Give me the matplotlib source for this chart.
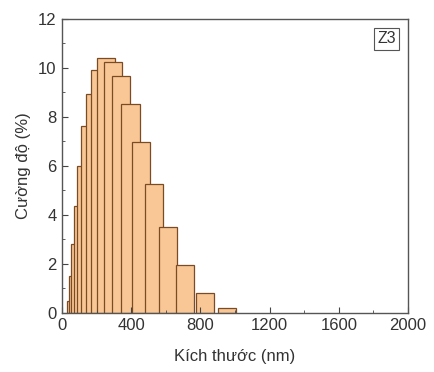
import matplotlib
matplotlib.use("Agg")
import matplotlib.pyplot as plt
from matplotlib.ticker import MultipleLocator

# Size classes (nm) and intensity distribution (%)
sizes = [78.82, 91.28, 105.7, 122.4, 141.8, 164.2, 190.1, 220.2, 255.0,
         295.3, 342.0, 396.1, 458.7, 531.2, 615.1, 712.4, 825.0, 955.4]
intensity = [0.49, 1.51, 2.8, 4.37, 6.0, 7.63, 8.95, 9.9, 10.42,
             10.26, 9.67, 8.52, 6.98, 5.25, 3.52, 1.96, 0.8, 0.18]
x_ticks = [0, 400, 800, 1200, 1600, 2000]
y_ticks = [0, 2, 4, 6, 8, 10, 12]
sample_label = "Z3"

plt.rcParams['font.family'] = ['Liberation Sans', 'DejaVu Sans']

fig = plt.figure(figsize=(4.35, 3.72), dpi=100)
ax = fig.add_axes([0.1425, 0.159, 0.7955, 0.79])

for s, v in zip(sizes, intensity):
    ax.bar(s, v, width=105, color='#f9c795', edgecolor='#7a4b25',
           linewidth=0.9, align='center')

ax.set_xlim(0, 2000)
ax.set_ylim(0, 12)
ax.set_xticks(x_ticks)
ax.set_yticks(y_ticks)
ax.xaxis.set_minor_locator(MultipleLocator(200))
ax.yaxis.set_minor_locator(MultipleLocator(1))
ax.tick_params(which='major', direction='in', length=4, width=0.8,
               labelsize=12, colors='#444444', labelcolor='#333333', pad=4)
ax.tick_params(which='minor', direction='in', length=2, width=0.6,
               colors='#444444')
for sp in ax.spines.values():
    sp.set_color('#555555')
    sp.set_linewidth(1.0)

ax.set_xlabel('Kích thước (nm)', fontsize=12, color='#333333', labelpad=11)
ax.set_ylabel('Cường độ (%)', fontsize=12, color='#333333', labelpad=5)

ax.text(0.939, 0.932, sample_label, transform=ax.transAxes, fontsize=11.5,
        color='#333333', ha='center', va='center',
        bbox=dict(boxstyle='square,pad=0.2', facecolor='white',
                  edgecolor='#555555', linewidth=0.8))

fig.savefig('out.png', dpi=100)
